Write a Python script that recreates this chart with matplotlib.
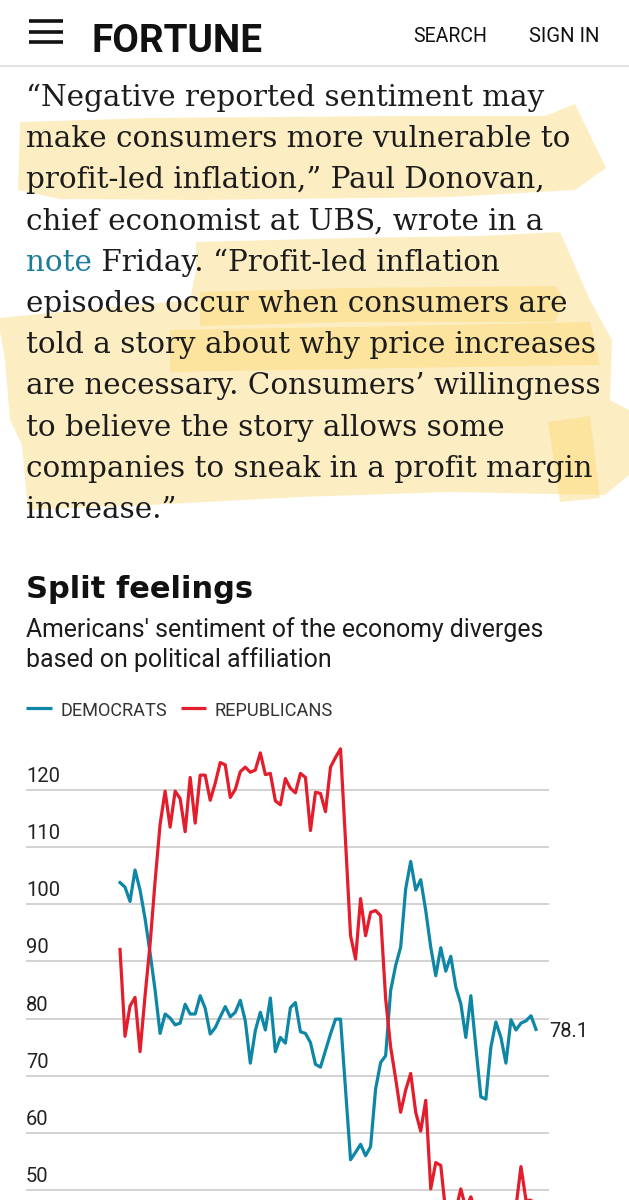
import numpy as np
import matplotlib
matplotlib.use('Agg')
import matplotlib.pyplot as plt
from matplotlib.patches import Polygon
from matplotlib.transforms import offset_copy

# monthly sentiment index
dem = [103.8, 103.0, 100.5, 106.0, 102.5, 97.5, 91.5, 85.0, 77.4, 80.8,
       80.1, 78.9, 79.2, 82.5, 80.8, 80.8, 84.0, 81.8, 77.3, 78.4,
       80.3, 82.1, 80.3, 81.1, 83.2, 79.6, 72.2, 77.9, 81.1, 78.0,
       83.6, 74.2, 76.7, 75.7, 81.9, 82.8, 77.7, 77.4, 75.8, 72.0,
       71.5, 74.4, 77.3, 79.9, 79.9, 67.6, 55.3, 56.6, 58.0, 56.0,
       57.6, 67.7, 72.3, 73.5, 84.9, 89.3, 92.5, 102.7, 107.5, 102.5,
       104.3, 98.9, 92.5, 87.5, 92.4, 88.3, 90.9, 85.5, 82.6, 76.7,
       84.0, 75.0, 66.3, 65.9, 75.0, 79.4, 76.7, 72.2, 79.8, 78.0,
       79.2, 79.6, 80.5, 78.1]
rep = [92.1, 76.9, 82.2, 83.7, 74.2, 84.0, 93.0, 104.0, 114.0, 119.8,
       113.5, 119.8, 118.5, 112.7, 122.2, 114.2, 122.6, 122.6, 118.2, 121.2,
       124.8, 124.4, 118.7, 120.1, 123.2, 124.0, 123.1, 123.5, 126.5, 122.7,
       122.9, 118.1, 117.4, 122.0, 120.3, 119.5, 122.9, 122.2, 112.9, 119.6,
       119.4, 116.2, 124.0, 125.7, 127.2, 111.0, 94.5, 90.4, 101.0, 94.5,
       98.6, 98.9, 98.0, 83.5, 75.0, 69.5, 63.6, 67.5, 70.4, 63.6,
       60.3, 65.7, 50.2, 54.8, 54.3, 46.0, 44.5, 46.5, 50.2, 46.8,
       48.8, 46.0, 45.0, 44.0, 45.5, 44.5, 45.0, 46.0, 45.0, 47.0,
       54.1, 48.2, 48.2, 47.0]
yticks = [50, 60, 70, 80, 90, 100, 110, 120]
names = ['DEMOCRATS', 'REPUBLICANS']

article = ['“Negative reported sentiment may',
           'make consumers more vulnerable to',
           'profit-led inflation,” Paul Donovan,',
           'chief economist at UBS, wrote in a',
           ' Friday. “Profit-led inflation',
           'episodes occur when consumers are',
           'told a story about why price increases',
           'are necessary. Consumers’ willingness',
           'to believe the story allows some',
           'companies to sneak in a profit margin',
           'increase.”']

BLUE = '#0e86a6'
RED = '#e31d2b'
SANS = ['Roboto', 'DejaVu Sans']
NARROW = ['Liberation Sans Narrow', 'Roboto', 'DejaVu Sans']

W, H = 629, 1200
fig = plt.figure(figsize=(W / 100, H / 100), dpi=100, facecolor='white')
bg = fig.add_axes([0, 0, 1, 1])
bg.set_xlim(0, W)
bg.set_ylim(H, 0)
bg.axis('off')
r = fig.canvas.get_renderer()


def fit(t, w):
    bb = t.get_window_extent(r)
    t.set_fontsize(t.get_fontsize() * w / bb.width)
    return t


# header
for y in (21, 32, 42):
    bg.plot([29, 63], [y, y], color='#111', lw=2.6, solid_capstyle='butt')
t = bg.text(91, 52, 'FORTUNE', fontsize=30, fontweight='bold', family=NARROW,
            va='baseline', color='#111')
fit(t, 171)
t = bg.text(413, 42, 'SEARCH', fontsize=14, family=NARROW, va='baseline', color='#111')
fit(t, 74)
t = bg.text(529, 42, 'SIGN IN', fontsize=14, family=NARROW, va='baseline', color='#111')
fit(t, 71)
bg.plot([0, W], [65.5, 65.5], color='#dddddd', lw=1.2)

# highlighter strokes
hl = dict(facecolor='#fcd66e', edgecolor='none', alpha=0.42, zorder=1)
strokes = [
    [(20, 122), (150, 118), (400, 116), (545, 116), (575, 104), (606, 168),
     (575, 190), (450, 197), (200, 200), (60, 199), (18, 190)],
    [(196, 242), (350, 238), (480, 236), (560, 232), (590, 300), (612, 340),
     (610, 400), (629, 410), (629, 475), (605, 495), (450, 492), (300, 497),
     (150, 505), (28, 510), (22, 445), (10, 420), (5, 360), (0, 330),
     (0, 318), (60, 312), (190, 300), (196, 270)],
    [(200, 292), (350, 288), (555, 286), (565, 300), (555, 322), (350, 322), (200, 326)],
    [(170, 330), (400, 326), (590, 322), (600, 365), (400, 368), (170, 372)],
    [(548, 422), (590, 416), (600, 498), (560, 502)],
]
for s in strokes:
    bg.add_patch(Polygon(s, closed=True, **hl))

# article text
base = 106
step = 41.2
t = bg.text(26, base + 6 * step, article[6], fontsize=20, family='DejaVu Serif',
            va='baseline', color='#1c1c1c', zorder=3)
fit(t, 567)
fs = t.get_fontsize()
for i, line in enumerate(article):
    if i == 6:
        continue
    y = base + i * step
    if i == 4:
        tn = bg.text(26, y, 'note', fontsize=fs, family='DejaVu Serif', va='baseline',
                     color='#1b7c9b', zorder=3)
        x1 = tn.get_window_extent(r).x1
        bg.text(x1, y, line, fontsize=fs, family='DejaVu Serif', va='baseline',
                color='#1c1c1c', zorder=3)
    else:
        bg.text(26, y, line, fontsize=fs, family='DejaVu Serif', va='baseline',
                color='#1c1c1c', zorder=3)

# chart title block
t = bg.text(26, 598, 'Split feelings', fontsize=20, fontweight='heavy', family='DejaVu Sans',
            va='baseline', color='#111')
fit(t, 228)
t = bg.text(26, 637, "Americans' sentiment of the economy diverges", fontsize=15,
            family=SANS, va='baseline', color='#1c1c1c')
fit(t, 520)
bg.text(26, 667, 'based on political affiliation', fontsize=t.get_fontsize(),
        family=SANS, va='baseline', color='#1c1c1c')

# legend
bg.plot([26, 52], [708, 708], color=BLUE, lw=2.3, solid_capstyle='butt')
t = bg.text(60, 716, names[0], fontsize=12, family=SANS, va='baseline', color='#333')
fit(t, 106)
bg.plot([181, 206], [708, 708], color=RED, lw=2.3, solid_capstyle='butt')
t = bg.text(214, 716, names[1], fontsize=12, family=SANS, va='baseline', color='#333')
fit(t, 118)

# chart: 10 index points = 400/7 px, value 120 sits at y=790
ppu = 40 / 7
top_px = 790 - 10 * ppu
bot_px = 790 + 80 * ppu
ax = fig.add_axes([26 / W, 1 - bot_px / H, 523 / W, (bot_px - top_px) / H])
ax.set_xlim(-18.755, 85.595)
ax.set_ylim(40, 130)
ax.patch.set_visible(False)
for sp in ax.spines.values():
    sp.set_visible(False)
ax.set_xticks([])
ax.set_yticks(yticks)
ax.tick_params(axis='y', length=0, labelleft=False)
ax.grid(axis='y', color='#d2d2d2', lw=1.4)
ax.set_axisbelow(True)

x = np.arange(len(dem))
ax.plot(x, dem, color=BLUE, lw=2.3)
ax.plot(x, rep, color=RED, lw=2.3)

lab_tr = offset_copy(ax.get_yaxis_transform(), fig=fig, y=8, units='dots')
for v in yticks:
    ax.text(0, v, str(v), transform=lab_tr, ha='left', va='baseline', fontsize=14.5,
            family=SANS, color='#222')
ax.annotate(f'{dem[-1]:.1f}', xy=(x[-1], dem[-1]), xytext=(9.4, -1.5),
            textcoords='offset points', ha='left', va='center', fontsize=14.5,
            family=SANS, color='#222', annotation_clip=False)

fig.savefig('out.png', dpi=100, facecolor='white')
